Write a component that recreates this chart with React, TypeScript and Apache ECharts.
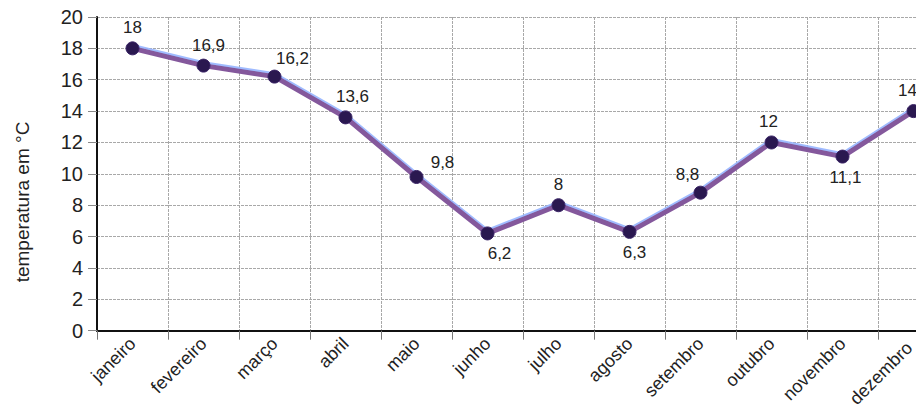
import React, { useEffect, useRef } from "react";
import * as echarts from "echarts";

const months = ["janeiro", "fevereiro", "março", "abril", "maio", "junho", "julho", "agosto", "setembro", "outubro", "novembro", "dezembro"];
const temps = [18, 16.9, 16.2, 13.6, 9.8, 6.2, 8, 6.3, 8.8, 12, 11.1, 14];
const yTicks = [0, 2, 4, 6, 8, 10, 12, 14, 16, 18, 20];
const yTitle = "temperatura em °C";

// label placement (style, not data)
const labelBelow = new Set([5, 7, 10]);
const labelOffsets: [number, number][] = [
  [0, 0], [5, 0], [18, 2], [7, 0], [26, 6], [12, 0], [0, 0], [5, 0], [-13, 2], [-3, 0], [3, 0], [-6, 0],
];

export default function App() {
  const ref = useRef<HTMLDivElement>(null);
  useEffect(() => {
    if (!ref.current) return;
    const chart = echarts.init(ref.current, null, { renderer: "svg" });
    const font = "'Liberation Sans', Arial, sans-serif";
    chart.setOption({
      animation: false,
      backgroundColor: "#ffffff",
      grid: { left: 97, top: 17, height: 314, width: 852, containLabel: false },
      graphic: [
        {
          type: "text",
          x: 22,
          y: 202,
          rotation: Math.PI / 2,
          style: {
            text: yTitle,
            font: `19px ${font}`,
            fill: "#222",
            align: "center",
            verticalAlign: "middle",
          },
        },
      ],
      xAxis: {
        type: "category",
        data: months.map((m, i) =>
          i === months.length - 1 ? { value: m, textStyle: { padding: [0, 6, 0, 0] } } : m
        ),
        boundaryGap: true,
        axisLine: { show: true, lineStyle: { color: "#111", width: 2 } },
        axisTick: { show: true, length: 9, lineStyle: { color: "#777", width: 1 } },
        axisLabel: {
          rotate: 45,
          margin: 10,
          fontSize: 18,
          color: "#222",
          fontFamily: font,
        },
        splitLine: { show: true, lineStyle: { color: "#a8a8a8", width: 1, type: [3, 1] } },
      },
      yAxis: {
        type: "value",
        min: 0,
        max: 20,
        interval: 2,
        axisLine: { show: true, lineStyle: { color: "#111", width: 2 } },
        axisTick: { show: true, length: 9, lineStyle: { color: "#888", width: 1 } },
        axisLabel: {
          margin: 14,
          fontSize: 20,
          color: "#222",
          fontFamily: font,
          formatter: (v: number) => (yTicks.includes(v) ? String(v) : ""),
        },
        splitLine: { show: true, lineStyle: { color: "#a8a8a8", width: 1, type: [3, 1] } },
      },
      series: [
        {
          type: "line",
          data: temps.map((v, i) => ({
            value: v,
            label: {
              position: labelBelow.has(i) ? "bottom" : "top",
              offset: labelOffsets[i],
            },
          })),
          symbol: "circle",
          symbolSize: 13,
          itemStyle: { color: "#2a1850", borderColor: "#3a2466", borderWidth: 1 },
          lineStyle: {
            color: "#84589c",
            width: 5,
            shadowColor: "rgba(150,180,255,0.9)",
            shadowBlur: 1,
            shadowOffsetY: -2,
          },
          label: {
            show: true,
            distance: 5,
            fontSize: 17,
            color: "#222",
            fontFamily: font,
            formatter: (p: any) => String(p.value).replace(".", ","),
          },
          z: 5,
        },
      ],
    });
    return () => chart.dispose();
  }, []);
  return (
    <div style={{ position: "fixed", left: 0, top: 0, width: 916, height: 410, overflow: "hidden", background: "#fff" }}>
      <div ref={ref} style={{ position: "absolute", left: 0, top: 0, width: 960, height: 410 }} />
    </div>
  );
}
